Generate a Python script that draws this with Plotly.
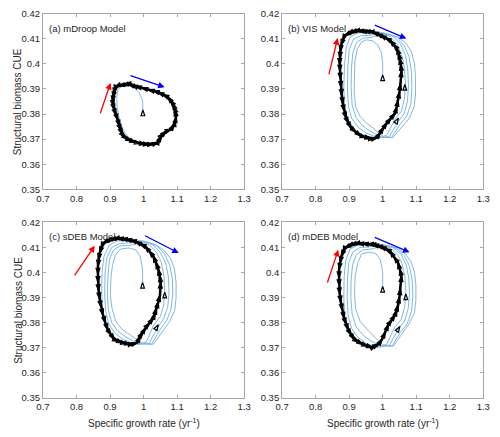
import plotly.graph_objects as go

# ---------------- data ----------------
panel_titles = ["(a) mDroop Model", "(b) VIS Model", "(c) sDEB Model", "(d) mDEB Model"]
x_tick_vals = [0.7, 0.8, 0.9, 1.0, 1.1, 1.2, 1.3]
x_tick_labels = ["0.7", "0.8", "0.9", "1", "1.1", "1.2", "1.3"]
y_tick_vals = [0.35, 0.36, 0.37, 0.38, 0.39, 0.40, 0.41, 0.42]
y_tick_labels = ["0.35", "0.36", "0.37", "0.38", "0.39", "0.4", "0.41", "0.42"]

# (a) mDroop: trajectory (light blue) and limit cycle (black arrows)
traj_a = [(0.998,0.3816),(0.997,0.3855),(0.9855,0.3887),(0.971,0.3907),(0.955,0.3915),(0.937,0.3913),(0.924,0.3898),
          (0.920,0.3870),(0.921,0.3830),(0.926,0.3790),(0.933,0.3757),(0.943,0.3727),(0.958,0.3703),(0.980,0.3688),(1.005,0.3681),(1.030,0.3680),(1.045,0.3687),(1.055,0.3710),(1.069,0.3728),(1.083,0.3737),(1.093,0.3757),(1.097,0.3790),(1.094,0.3816),(1.087,0.3842),(1.072,0.3868),(1.0435,0.3887),(1.0145,0.3897),(0.976,0.3910),(0.955,0.3920),(0.937,0.3916),(0.918,0.3910),
          (0.914,0.3882),(0.912,0.3850),(0.916,0.3816),(0.925,0.3778),(0.931,0.3752),(0.940,0.3720),(0.954,0.3700),(0.977,0.3687),(1.005,0.3680),(1.029,0.3680),(1.043,0.3687),(1.053,0.3713),(1.068,0.3732),(1.082,0.3739),(1.092,0.3758),(1.097,0.3790),(1.094,0.3816),(1.087,0.3842),(1.072,0.3868),(1.0435,0.3887),(1.0145,0.3897),(0.976,0.3910),(0.955,0.3920),(0.937,0.3916),(0.916,0.3910)]
cycle_a = [(0.916,0.3907),(0.913,0.3893),(0.911,0.3880),(0.909,0.3865),(0.908,0.3849),(0.910,0.3832),(0.913,0.3816),(0.918,0.3797),(0.923,0.3777),(0.928,0.3752),(0.932,0.3735),(0.937,0.3719),(0.944,0.3708),(0.952,0.3700),(0.964,0.3693),(0.976,0.3687),(0.990,0.3683),(1.005,0.3680),(1.017,0.3679),(1.029,0.3680),(1.043,0.3687),(1.048,0.3700),(1.053,0.3713),(1.060,0.3722),(1.068,0.3732),(1.082,0.3739),(1.092,0.3758),(1.095,0.3774),(1.097,0.3790),(1.094,0.3816),(1.091,0.3829),(1.087,0.3842),(1.080,0.3855),(1.072,0.3868),(1.058,0.3878),(1.0435,0.3887),(1.029,0.3892),(1.0145,0.3897),(0.995,0.3904),(0.976,0.3910),(0.965,0.3915),(0.955,0.3920),(0.946,0.3918),(0.937,0.3916),(0.926,0.3914),(0.916,0.3907)]
marks_a = [(0.998,0.3816,0)]

# (b) VIS
traj_b = [(1.000,0.3956),(1.000,0.4005),(0.996,0.4045),(0.986,0.4075),(0.970,0.4092),(0.952,0.4096),(0.937,0.4088),(0.924,0.4058),(0.917,0.4010),(0.915,0.3950),(0.915,0.3890),(0.919,0.3830),(0.933,0.3790),(0.952,0.3764),(0.971,0.3745),(0.990,0.3722),(1.005,0.3708),(1.030,0.3706),(1.056,0.3748),(1.080,0.3784),(1.094,0.3830),(1.098,0.3880),(1.098,0.3945),(1.095,0.4000),(1.086,0.4048),(1.068,0.4085),(1.045,0.4108),(1.018,0.4118),
          (0.990,0.4114),(0.965,0.4106),(0.940,0.4102),(0.922,0.4085),(0.911,0.4045),(0.907,0.3985),(0.906,0.3905),(0.909,0.3835),(0.920,0.3788),(0.938,0.3756),(0.958,0.3735),(0.978,0.3720),(0.996,0.3708),(1.026,0.3706),(1.050,0.3756),(1.072,0.3792),(1.084,0.3840),(1.087,0.3900),(1.086,0.3968),(1.079,0.4028),(1.064,0.4074),(1.042,0.4106),(1.015,0.4120),
          (0.988,0.4120),(0.960,0.4114),(0.933,0.4112),(0.912,0.4097),(0.900,0.4055),(0.896,0.3985),(0.895,0.3900),(0.898,0.3830),(0.908,0.3782),(0.926,0.3748),(0.950,0.3725),(0.974,0.3712),(0.995,0.3706),(1.020,0.3710),(1.044,0.3766),(1.064,0.3802),(1.074,0.3852),(1.077,0.3912),(1.075,0.3976),(1.068,0.4034),(1.053,0.4080),(1.031,0.4110),(1.005,0.4124),
          (0.978,0.4126),(0.950,0.4124),(0.926,0.4124),(0.903,0.4108),(0.891,0.4062),(0.886,0.3990),(0.884,0.3900),(0.887,0.3830),(0.896,0.3778),(0.914,0.3740),(0.942,0.3715),(0.968,0.3705),(0.990,0.3705),(1.012,0.3716),(1.036,0.3778),(1.056,0.3812),(1.065,0.3862),(1.068,0.3920),(1.065,0.3982),(1.057,0.4036),(1.043,0.4080),(1.022,0.4110),(0.996,0.4124)]
cycle_b = [(0.970,0.4128),(0.957,0.4129),(0.945,0.4130),(0.935,0.4132),(0.926,0.4133),(0.915,0.4130),(0.905,0.4126),(0.896,0.4120),(0.887,0.4114),(0.881,0.4095),(0.876,0.4075),(0.874,0.4050),(0.872,0.4023),(0.872,0.3998),(0.873,0.3972),(0.874,0.3940),(0.876,0.3907),(0.878,0.3875),(0.881,0.3842),(0.885,0.3812),(0.891,0.3784),(0.898,0.3764),(0.906,0.3745),(0.920,0.3728),(0.935,0.3713),(0.950,0.3707),(0.964,0.3702),(0.975,0.3703),(0.983,0.3706),(0.993,0.3726),(1.003,0.3746),(1.013,0.3765),(1.025,0.3784),(1.037,0.3803),(1.042,0.3829),(1.046,0.3855),(1.050,0.3888),(1.053,0.3920),(1.056,0.3972),(1.054,0.3998),(1.051,0.4023),(1.047,0.4043),(1.042,0.4062),(1.032,0.4078),(1.022,0.4094),(1.008,0.4104),(0.993,0.4114),(0.982,0.4121),(0.970,0.4128)]
marks_b = [(1.000,0.3956,0),(1.066,0.3918,0),(1.047,0.3784,30)]

# (c) sDEB
traj_c = [(0.997,0.3961),(0.997,0.4013),(0.990,0.4065),(0.976,0.4091),(0.956,0.4098),(0.932,0.4094),(0.917,0.4072),(0.908,0.4033),(0.903,0.3987),(0.901,0.3909),(0.906,0.3857),(0.917,0.3805),(0.935,0.3775),(0.958,0.3752),(0.980,0.3732),(0.996,0.3718),(1.029,0.3714),(1.055,0.3762),(1.078,0.3805),(1.093,0.3850),(1.097,0.3900),(1.097,0.3960),(1.092,0.4015),(1.080,0.4058),(1.060,0.4090),(1.035,0.4112),(1.008,0.4120),
          (0.980,0.4114),(0.955,0.4108),(0.930,0.4106),(0.910,0.4090),(0.898,0.4050),(0.894,0.3990),(0.892,0.3915),(0.895,0.3850),(0.905,0.3800),(0.922,0.3768),(0.945,0.3745),(0.968,0.3728),(0.990,0.3716),(1.024,0.3714),(1.048,0.3770),(1.069,0.3808),(1.082,0.3855),(1.087,0.3912),(1.086,0.3975),(1.078,0.4030),(1.062,0.4075),(1.040,0.4106),(1.012,0.4122),
          (0.984,0.4122),(0.956,0.4118),(0.928,0.4116),(0.905,0.4100),(0.890,0.4058),(0.885,0.3995),(0.884,0.3915),(0.887,0.3845),(0.896,0.3795),(0.914,0.3758),(0.938,0.3735),(0.962,0.3720),(0.986,0.3714),(1.016,0.3716),(1.040,0.3778),(1.060,0.3815),(1.072,0.3862),(1.076,0.3920),(1.074,0.3982),(1.066,0.4038),(1.050,0.4080),(1.028,0.4110),(1.001,0.4126),
          (0.974,0.4128),(0.947,0.4127),(0.922,0.4126),(0.898,0.4110),(0.882,0.4065),(0.876,0.4000),(0.875,0.3915),(0.878,0.3840),(0.887,0.3785),(0.904,0.3748),(0.930,0.3725),(0.956,0.3714),(0.982,0.3714),(1.008,0.3722),(1.030,0.3790),(1.050,0.3825),(1.060,0.3870),(1.063,0.3925),(1.061,0.3985),(1.053,0.4040),(1.038,0.4082),(1.016,0.4112),(0.990,0.4126)]
cycle_c = [(0.976,0.4124),(0.961,0.4129),(0.947,0.4133),(0.934,0.4135),(0.922,0.4137),(0.911,0.4134),(0.900,0.4130),(0.889,0.4124),(0.879,0.4117),(0.874,0.4098),(0.869,0.4078),(0.866,0.4052),(0.864,0.4026),(0.864,0.3994),(0.864,0.3961),(0.866,0.3928),(0.869,0.3896),(0.873,0.3863),(0.879,0.3831),(0.886,0.3800),(0.893,0.3772),(0.903,0.3752),(0.913,0.3733),(0.925,0.3726),(0.937,0.3720),(0.949,0.3717),(0.961,0.3714),(0.971,0.3716),(0.981,0.3720),(0.990,0.3746),(0.998,0.3762),(1.005,0.3779),(1.017,0.3798),(1.029,0.3818),(1.034,0.3837),(1.039,0.3857),(1.044,0.3883),(1.049,0.3909),(1.051,0.3961),(1.048,0.3987),(1.044,0.4013),(1.037,0.4039),(1.029,0.4065),(1.017,0.4085),(1.005,0.4104),(0.990,0.4114),(0.976,0.4124)]
marks_c = [(0.997,0.3961,0),(1.063,0.3922,0),(1.044,0.3792,30)]

# (d) mDEB
traj_d = [(1.000,0.3945),(1.000,0.4000),(0.993,0.4052),(0.979,0.4076),(0.958,0.4081),(0.937,0.4074),(0.926,0.4039),(0.918,0.3987),(0.916,0.3922),(0.919,0.3857),(0.933,0.3805),(0.957,0.3768),(0.982,0.3735),(1.000,0.3712),(1.032,0.3707),(1.058,0.3755),(1.080,0.3798),(1.095,0.3840),(1.099,0.3890),(1.099,0.3950),(1.095,0.4000),(1.085,0.4042),(1.067,0.4075),(1.044,0.4097),(1.016,0.4106),
          (0.990,0.4102),(0.965,0.4094),(0.940,0.4090),(0.922,0.4072),(0.910,0.4030),(0.906,0.3970),(0.905,0.3900),(0.909,0.3835),(0.920,0.3785),(0.940,0.3752),(0.962,0.3730),(0.982,0.3715),(0.998,0.3707),(1.028,0.3706),(1.052,0.3760),(1.073,0.3795),(1.086,0.3845),(1.090,0.3905),(1.088,0.3970),(1.080,0.4025),(1.064,0.4068),(1.041,0.4096),(1.014,0.4108),
          (0.986,0.4108),(0.958,0.4102),(0.932,0.4100),(0.911,0.4082),(0.899,0.4040),(0.895,0.3975),(0.894,0.3895),(0.897,0.3828),(0.907,0.3778),(0.926,0.3742),(0.950,0.3718),(0.974,0.3706),(0.994,0.3703),(1.020,0.3710),(1.045,0.3770),(1.065,0.3805),(1.076,0.3855),(1.080,0.3915),(1.078,0.3978),(1.070,0.4030),(1.055,0.4072),(1.032,0.4098),(1.005,0.4110),
          (0.977,0.4112),(0.950,0.4110),(0.926,0.4110),(0.903,0.4094),(0.890,0.4050),(0.885,0.3980),(0.884,0.3895),(0.887,0.3825),(0.897,0.3775),(0.915,0.3737),(0.942,0.3711),(0.968,0.3701),(0.990,0.3702),(1.012,0.3714),(1.035,0.3780),(1.056,0.3815),(1.066,0.3865),(1.069,0.3925),(1.066,0.3985),(1.058,0.4035),(1.044,0.4072),(1.022,0.4098),(0.996,0.4110)]
cycle_d = [(0.970,0.4112),(0.962,0.4113),(0.955,0.4113),(0.940,0.4115),(0.926,0.4117),(0.915,0.4114),(0.905,0.4110),(0.896,0.4104),(0.887,0.4098),(0.882,0.4082),(0.877,0.4065),(0.873,0.4039),(0.870,0.4013),(0.870,0.3980),(0.870,0.3948),(0.872,0.3915),(0.875,0.3883),(0.880,0.3850),(0.885,0.3818),(0.891,0.3795),(0.897,0.3772),(0.906,0.3752),(0.916,0.3733),(0.928,0.3723),(0.940,0.3714),(0.955,0.3707),(0.969,0.3701),(0.979,0.3708),(0.988,0.3714),(0.998,0.3733),(1.008,0.3762),(1.017,0.3792),(1.027,0.3811),(1.037,0.3831),(1.042,0.3850),(1.046,0.3870),(1.050,0.3902),(1.053,0.3935),(1.056,0.3987),(1.051,0.4013),(1.046,0.4039),(1.034,0.4062),(1.022,0.4085),(1.008,0.4095),(0.993,0.4104),(0.982,0.4108),(0.970,0.4112)]
marks_d = [(1.000,0.3945,0),(1.069,0.3915,0),(1.051,0.3785,30)]

# direction arrows: (tail_x, tail_y, tip_x, tip_y)
red_arrows = [(0.8696,0.3797,0.9015,0.3924),(0.8386,0.3952,0.8657,0.4103),(0.7913,0.3983,0.8544,0.4107),(0.8338,0.3954,0.8676,0.4091)]
blue_arrows = [(0.9565,0.3955,1.0628,0.3907),(0.972,0.4157,1.0705,0.4101),(1.000,0.4150,1.1049,0.4078),(0.972,0.4143,1.0802,0.4081)]

trajs = [traj_a, traj_b, traj_c, traj_d]
cycles = [cycle_a, cycle_b, cycle_c, cycle_d]
marks = [marks_a, marks_b, marks_c, marks_d]

# ---------------- layout ----------------
W, H = 500, 437
FONT = "Liberation Sans, Arial, Helvetica, sans-serif"
TXT = "#262626"
x_doms = [(37 / W, 244 / W), (283 / W, 490 / W)]
y_doms = [(1 - 188 / H, 1 - 8 / H), (1 - 402 / H, 1 - 222 / H)]

fig = go.Figure()
annotations = []
for i in range(4):
    r, c = divmod(i, 2)
    xa = "x" if i == 0 else f"x{i+1}"
    ya = "y" if i == 0 else f"y{i+1}"
    tx, ty = zip(*trajs[i])
    fig.add_trace(go.Scatter(x=tx, y=ty, mode="lines", xaxis=xa, yaxis=ya,
                             line=dict(color="#80b8e4", width=1), showlegend=False, hoverinfo="skip"))
    cx, cy = zip(*cycles[i])
    fig.add_trace(go.Scatter(x=cx, y=cy, mode="lines+markers", xaxis=xa, yaxis=ya,
                             line=dict(color="black", width=2.6),
                             marker=dict(symbol="arrow-open", size=6, color="black", angleref="previous",
                                         line=dict(color="black", width=1.3)),
                             showlegend=False, hoverinfo="skip"))
    mx, my, ma = zip(*marks[i])
    fig.add_trace(go.Scatter(x=mx, y=my, mode="markers", xaxis=xa, yaxis=ya,
                             marker=dict(symbol="arrow-open", size=6, color="black", angle=list(ma),
                                         line=dict(color="black", width=1.2)),
                             showlegend=False, hoverinfo="skip"))
    xref = "x" if i == 0 else f"x{i+1}"
    yref = "y" if i == 0 else f"y{i+1}"
    for arr, col in ((red_arrows[i], "red"), (blue_arrows[i], "blue")):
        annotations.append(dict(x=arr[2], y=arr[3], ax=arr[0], ay=arr[1], xref=xref, yref=yref,
                                axref=xref, ayref=yref, showarrow=True, arrowhead=2, arrowsize=1,
                                arrowwidth=1.3, arrowcolor=col, text=""))
    annotations.append(dict(x=0.715, y=0.4142, xref=xref, yref=yref, text=panel_titles[i],
                            showarrow=False, xanchor="left", yanchor="middle", borderpad=0,
                            font=dict(family=FONT, size=9.5, color=TXT)))
    axis_common = dict(showline=True, linecolor="#a6a6a6", linewidth=1, mirror="allticks",
                       ticks="inside", ticklen=3, tickcolor="#a6a6a6", showgrid=False, zeroline=False,
                       tickfont=dict(family=FONT, size=9.5, color=TXT))
    fig.layout[("xaxis" if i == 0 else f"xaxis{i+1}")] = dict(
        domain=x_doms[c], range=[0.7, 1.3], tickvals=x_tick_vals, ticktext=x_tick_labels,
        anchor=ya, **axis_common)
    fig.layout[("yaxis" if i == 0 else f"yaxis{i+1}")] = dict(
        domain=y_doms[r], range=[0.35, 0.42], tickvals=y_tick_vals, ticktext=y_tick_labels,
        anchor=xa, **axis_common)

# axis titles
for r in range(2):
    annotations.append(dict(x=11 / W, y=sum(y_doms[r]) / 2, xref="paper", yref="paper",
                            xanchor="center", yanchor="middle",
                            text="Structural biomass CUE", textangle=-90, showarrow=False,
                            font=dict(family=FONT, size=10, color=TXT)))
for c in range(2):
    annotations.append(dict(x=sum(x_doms[c]) / 2, y=1 - 428 / H, xref="paper", yref="paper",
                            xanchor="center", yanchor="middle",
                            text="Specific growth rate (yr<sup>-1</sup>)", showarrow=False,
                            font=dict(family=FONT, size=10, color=TXT)))

fig.update_layout(width=W, height=H, margin=dict(l=0, r=0, t=0, b=0),
                  paper_bgcolor="white", plot_bgcolor="white", annotations=annotations,
                  font=dict(family=FONT, color=TXT))
fig.write_html("out.html")
